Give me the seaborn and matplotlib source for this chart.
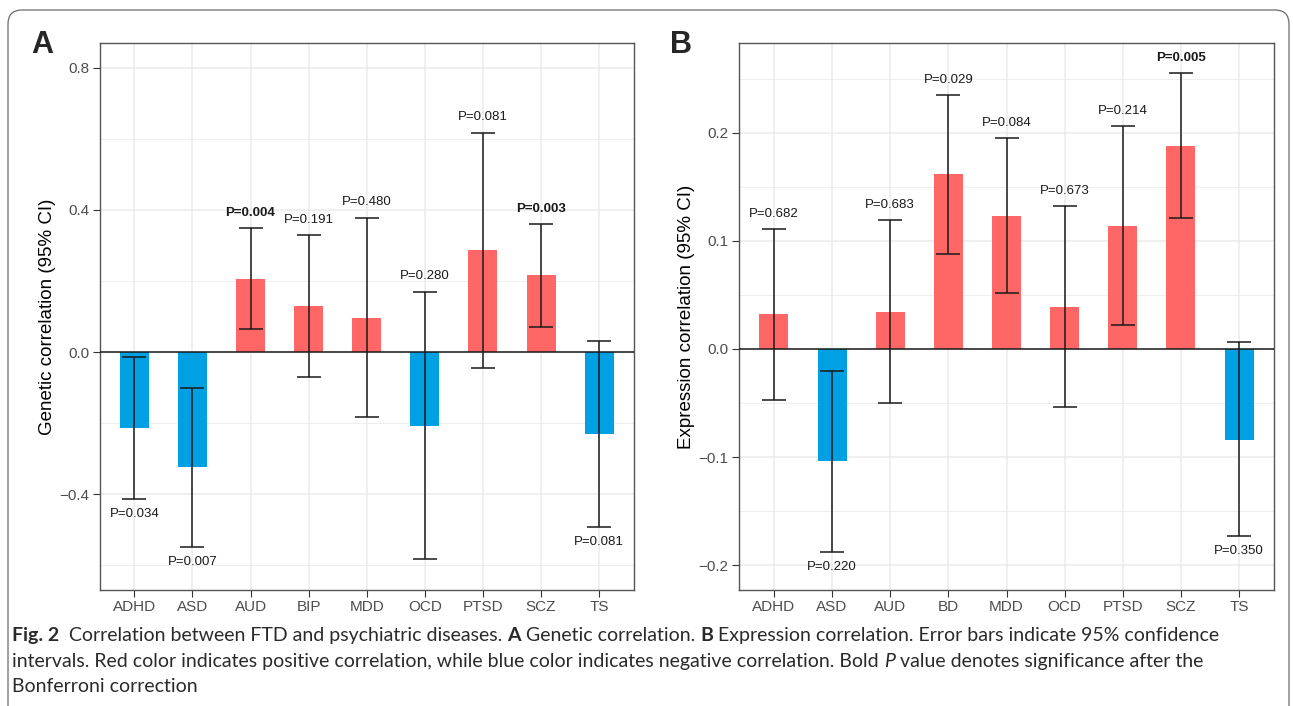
import numpy as np
import pandas as pd
import matplotlib
matplotlib.use("Agg")
import matplotlib.pyplot as plt
import seaborn as sns
from matplotlib.patches import FancyBboxPatch
from matplotlib.transforms import IdentityTransform
from matplotlib.font_manager import FontProperties
from matplotlib.ticker import FixedLocator, FixedFormatter

# ---------------- data ----------------
cats_a = ["ADHD", "ASD", "AUD", "BIP", "MDD", "OCD", "PTSD", "SCZ", "TS"]
corr_a = [-0.214, -0.324, 0.205, 0.130, 0.096, -0.207, 0.287, 0.217, -0.231]
lo_a = [-0.414, -0.549, 0.064, -0.069, -0.184, -0.584, -0.046, 0.071, -0.493]
hi_a = [-0.013, -0.101, 0.349, 0.330, 0.378, 0.170, 0.618, 0.360, 0.030]
p_a = ["P=0.034", "P=0.007", "P=0.004", "P=0.191", "P=0.480", "P=0.280", "P=0.081", "P=0.003", "P=0.081"]
sig_a = [False, False, True, False, False, False, False, True, False]
side_a = ["below", "below", "above", "above", "above", "above", "above", "above", "below"]
yticks_a = [-0.4, 0.0, 0.4, 0.8]

cats_b = ["ADHD", "ASD", "AUD", "BD", "MDD", "OCD", "PTSD", "SCZ", "TS"]
corr_b = [0.032, -0.104, 0.034, 0.162, 0.123, 0.039, 0.114, 0.188, -0.084]
lo_b = [-0.047, -0.188, -0.050, 0.088, 0.052, -0.054, 0.022, 0.121, -0.173]
hi_b = [0.111, -0.020, 0.119, 0.235, 0.195, 0.132, 0.206, 0.255, 0.006]
p_b = ["P=0.682", "P=0.220", "P=0.683", "P=0.029", "P=0.084", "P=0.673", "P=0.214", "P=0.005", "P=0.350"]
sig_b = [False, False, False, False, False, False, False, True, False]
side_b = ["above", "below", "above", "above", "above", "above", "above", "above", "below"]
yticks_b = [-0.2, -0.1, 0.0, 0.1, 0.2]

ylabel_a = "Genetic correlation (95% CI)"
ylabel_b = "Expression correlation (95% CI)"

caption_lines = [
    [("Fig. 2", "bold", "normal"), ("  Correlation between FTD and psychiatric diseases. ", "normal", "normal"),
     ("A", "bold", "normal"), (" Genetic correlation. ", "normal", "normal"),
     ("B", "bold", "normal"), (" Expression correlation. Error bars indicate 95% confidence", "normal", "normal")],
    [("intervals. Red color indicates positive correlation, while blue color indicates negative correlation. Bold ", "normal", "normal"),
     ("P", "normal", "italic"), (" value denotes significance after the", "normal", "normal")],
    [("Bonferroni correction", "normal", "normal")],
]

# ---------------- style ----------------
RED = "#FF6666"
BLUE = "#00A0E2"
W, H = 1293, 706
sns.set_style("white")
plt.rcParams["font.family"] = ["Liberation Sans", "DejaVu Sans"]

fig = plt.figure(figsize=(W / 100, H / 100), dpi=100)
ax_a = fig.add_axes([99.5 / W, 1 - 590 / H, 534.5 / W, 547 / H])
ax_b = fig.add_axes([739 / W, 1 - 590 / H, 535 / W, 547 / H])


def panel(ax, cats, corr, lo, hi, plabels, sig, side, yticks, ylim, minor, ylabel):
    corr = np.asarray(corr)
    lo = np.asarray(lo)
    hi = np.asarray(hi)
    df = pd.DataFrame({"cat": cats, "val": corr,
                       "sign": np.where(corr >= 0, "pos", "neg")})
    sns.barplot(data=df, x="cat", y="val", hue="sign", order=cats,
                palette={"pos": RED, "neg": BLUE}, width=0.5, dodge=False,
                saturation=1, legend=False, linewidth=0, ax=ax, zorder=2)
    xs = np.arange(len(cats))
    ax.axhline(0, color="#1a1a1a", lw=1.1, zorder=3)
    ax.errorbar(xs, corr, yerr=[corr - lo, hi - corr], fmt="none",
                ecolor="#1a1a1a", elinewidth=1.1, capsize=8.5, capthick=1.1, zorder=4)
    for x, l, h, t, s, sd in zip(xs, lo, hi, plabels, sig, side):
        if sd == "above":
            ax.annotate(t, (x, h), xytext=(0, 11), textcoords="offset points",
                        ha="center", va="center", fontsize=9.5,
                        fontweight="bold" if s else "normal", color="#1a1a1a", zorder=5)
        else:
            ax.annotate(t, (x, l), xytext=(0, -11), textcoords="offset points",
                        ha="center", va="center", fontsize=9.5,
                        fontweight="bold" if s else "normal", color="#1a1a1a", zorder=5)
    ax.set_xlim(-0.6, len(cats) - 0.4)
    ax.set_ylim(*ylim)
    ax.yaxis.set_major_locator(FixedLocator(yticks))
    ax.yaxis.set_major_formatter(FixedFormatter([f"{v:.1f}".replace("-", "\u2212") for v in yticks]))
    ax.yaxis.set_minor_locator(FixedLocator(minor))
    ax.set_axisbelow(True)
    ax.grid(True, which="major", color="#EBEBEB", lw=1.1, zorder=0)
    ax.grid(True, which="minor", axis="y", color="#EBEBEB", lw=0.6, zorder=0)
    ax.tick_params(which="major", length=5, width=0.8, color="#333333",
                   labelsize=11, labelcolor="#4D4D4D", pad=2.5,
                   bottom=True, left=True)
    ax.tick_params(which="minor", length=0)
    for sp in ax.spines.values():
        sp.set_color("#555555")
        sp.set_linewidth(1.0)
    ax.set_xlabel("")
    ax.set_ylabel(ylabel, fontsize=13.5, color="black")
    ax.yaxis.set_label_coords(-0.082, 0.5)


panel(ax_a, cats_a, corr_a, lo_a, hi_a, p_a, sig_a, side_a, yticks_a,
      (-0.67, 0.87), [-0.6, -0.2, 0.2, 0.6], ylabel_a)
panel(ax_b, cats_b, corr_b, lo_b, hi_b, p_b, sig_b, side_b, yticks_b,
      (-0.223, 0.283), [-0.15, -0.05, 0.05, 0.15, 0.25], ylabel_b)

# panel letters
fig.text(31 / W, 1 - 53 / H, "A", fontsize=22, fontweight="bold", ha="left", va="baseline")
fig.text(670 / W, 1 - 53 / H, "B", fontsize=22, fontweight="bold", ha="left", va="baseline")

# border
box = FancyBboxPatch((8, -40), 1281, 696 + 40, boxstyle="round,pad=0,rounding_size=14",
                     transform=IdentityTransform(), fill=False, edgecolor="#6b6b6b", lw=0.9)
fig.add_artist(box)

# caption
r = fig.canvas.get_renderer()
cap_family = ["Lato", "DejaVu Sans"]


def tw(s, fp):
    w1, _, _ = r.get_text_width_height_descent("|" + s + "|", fp, ismath=False)
    w0, _, _ = r.get_text_width_height_descent("||", fp, ismath=False)
    return w1 - w0


def line_width(segs, size):
    return sum(tw(s, FontProperties(family=cap_family, size=size, weight=w, style=st))
               for s, w, st in segs)


base = 12.0
size = base * 1201 / line_width(caption_lines[0], base)
baselines = [641, 667, 692]
for segs, yb in zip(caption_lines, baselines):
    x = 12.0
    for s, w, st in segs:
        fp = FontProperties(family=cap_family, size=size, weight=w, style=st)
        fig.text(x / W, 1 - yb / H, s, fontproperties=fp, color="#2a2a2a",
                 ha="left", va="baseline")
        x += tw(s, fp)

fig.savefig("out.png", dpi=100)
